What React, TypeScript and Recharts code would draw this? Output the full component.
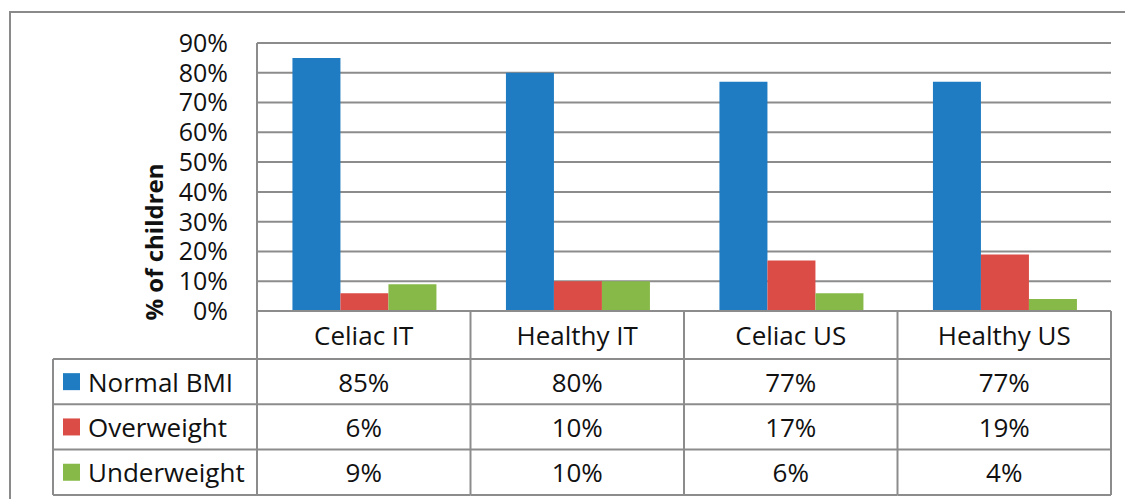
import { BarChart, Bar, XAxis, YAxis, CartesianGrid } from "recharts";

const CATEGORIES = ["Celiac IT", "Healthy IT", "Celiac US", "Healthy US"];
const NORMAL_BMI = [85, 80, 77, 77];
const OVERWEIGHT = [6, 10, 17, 19];
const UNDERWEIGHT = [9, 10, 6, 4];
const Y_TICKS = [0, 10, 20, 30, 40, 50, 60, 70, 80, 90];

const SERIES = [
  { key: "normal", name: "Normal BMI", color: "#1f7cc2", values: NORMAL_BMI },
  { key: "over", name: "Overweight", color: "#db4c46", values: OVERWEIGHT },
  { key: "under", name: "Underweight", color: "#86b948", values: UNDERWEIGHT },
];

const data = CATEGORIES.map((cat, i) => ({
  cat,
  normal: NORMAL_BMI[i],
  over: OVERWEIGHT[i],
  under: UNDERWEIGHT[i],
}));

const W = 1125;
const H = 499;
const PLOT_LEFT = 257;
const PLOT_RIGHT = 1111;
const PLOT_BOTTOM = 311;
const BAND = (PLOT_RIGHT - PLOT_LEFT) / CATEGORIES.length;
const HEADER_H = 48;
const ROW_H = 45.3;
const LINE = "#8c8c8c";
const FONT = "'Open Sans', sans-serif";
const TABLE_FS = 26;

function TableTick(props: any) {
  const { x, payload } = props;
  const i = payload.index;
  const top = PLOT_BOTTOM;
  const left = x - BAND / 2;
  const right = x + BAND / 2;
  const bottom = top + HEADER_H + ROW_H * SERIES.length;
  return (
    <g>
      <line x1={right} y1={top} x2={right} y2={bottom} stroke={LINE} strokeWidth={2} />
      {i === 0 && <line x1={left} y1={top} x2={left} y2={bottom} stroke={LINE} strokeWidth={2} />}
      <text x={x} y={top + HEADER_H / 2} textAnchor="middle" dominantBaseline="central" fontSize={TABLE_FS} fill="#111" fontFamily={FONT}>
        {payload.value}
      </text>
      {SERIES.map((s, r) => {
        const rowTop = top + HEADER_H + ROW_H * r;
        return (
          <g key={s.key}>
            <line x1={left} y1={rowTop} x2={right} y2={rowTop} stroke={LINE} strokeWidth={2} />
            <text x={x} y={rowTop + ROW_H / 2} textAnchor="middle" dominantBaseline="central" fontSize={TABLE_FS} fill="#111" fontFamily={FONT}>
              {`${s.values[i]}%`}
            </text>
          </g>
        );
      })}
      <line x1={left} y1={bottom} x2={right} y2={bottom} stroke={LINE} strokeWidth={2} />
    </g>
  );
}

function LegendColumn() {
  const left = 53;
  const top = PLOT_BOTTOM + HEADER_H;
  return (
    <g>
      <line x1={left} y1={top} x2={left} y2={top + ROW_H * 3} stroke={LINE} strokeWidth={2} />
      {SERIES.map((s, r) => {
        const rowTop = top + ROW_H * r;
        return (
          <g key={s.key}>
            <line x1={left} y1={rowTop} x2={PLOT_LEFT} y2={rowTop} stroke={LINE} strokeWidth={2} />
            <rect x={63} y={rowTop + ROW_H / 2 - 8.5} width={17} height={17} fill={s.color} />
            <text x={88} y={rowTop + ROW_H / 2} dominantBaseline="central" fontSize={TABLE_FS} fill="#111" fontFamily={FONT}>
              {s.name}
            </text>
          </g>
        );
      })}
      <line x1={left} y1={top + ROW_H * 3} x2={PLOT_LEFT} y2={top + ROW_H * 3} stroke={LINE} strokeWidth={2} />
    </g>
  );
}

export default function App() {
  return (
    <div style={{ position: "fixed", left: 0, top: 0, width: W, height: H, overflow: "hidden", background: "#fff" }}>
      <div
        style={{
          position: "absolute",
          left: 9,
          top: 11,
          width: 1300,
          height: 700,
          border: "2px solid #8a8a8a",
        }}
      />
      <div style={{ position: "absolute", left: 0, top: 0 }}>
        <BarChart
          width={W}
          height={H}
          data={data}
          margin={{ top: 43, right: W - PLOT_RIGHT, left: 0, bottom: 0 }}
          barCategoryGap="16.6%"
          barGap={0}
        >
          <CartesianGrid vertical={false} stroke={LINE} strokeWidth={2} />
          <XAxis
            dataKey="cat"
            height={H - PLOT_BOTTOM}
            axisLine={{ stroke: LINE, strokeWidth: 2 }}
            tickLine={false}
            tickSize={0}
            tickMargin={0}
            interval={0}
            tick={<TableTick />}
          />
          <YAxis
            width={PLOT_LEFT}
            domain={[0, 90]}
            ticks={Y_TICKS}
            interval={0}
            tickFormatter={(v: number) => `${v}%`}
            axisLine={{ stroke: LINE, strokeWidth: 2 }}
            tickLine={false}
            tickSize={0}
            tickMargin={29}
            tick={{ fontSize: 25, fill: "#111", fontFamily: FONT }}
            label={{
              content: () => (
                <text
                  x={153}
                  y={242}
                  transform="rotate(-90 153 242)"
                  textAnchor="middle"
                  dominantBaseline="central"
                  fontSize={24}
                  fontWeight="bold"
                  fill="#111"
                  fontFamily={FONT}
                >
                  % of children
                </text>
              ),
            }}
          />
          {SERIES.map((s) => (
            <Bar key={s.key} dataKey={s.key} name={s.name} fill={s.color} isAnimationActive={false} />
          ))}
        </BarChart>
      </div>
      <svg width={W} height={H} style={{ position: "absolute", left: 0, top: 0, pointerEvents: "none" }}>
        <LegendColumn />
      </svg>
    </div>
  );
}
